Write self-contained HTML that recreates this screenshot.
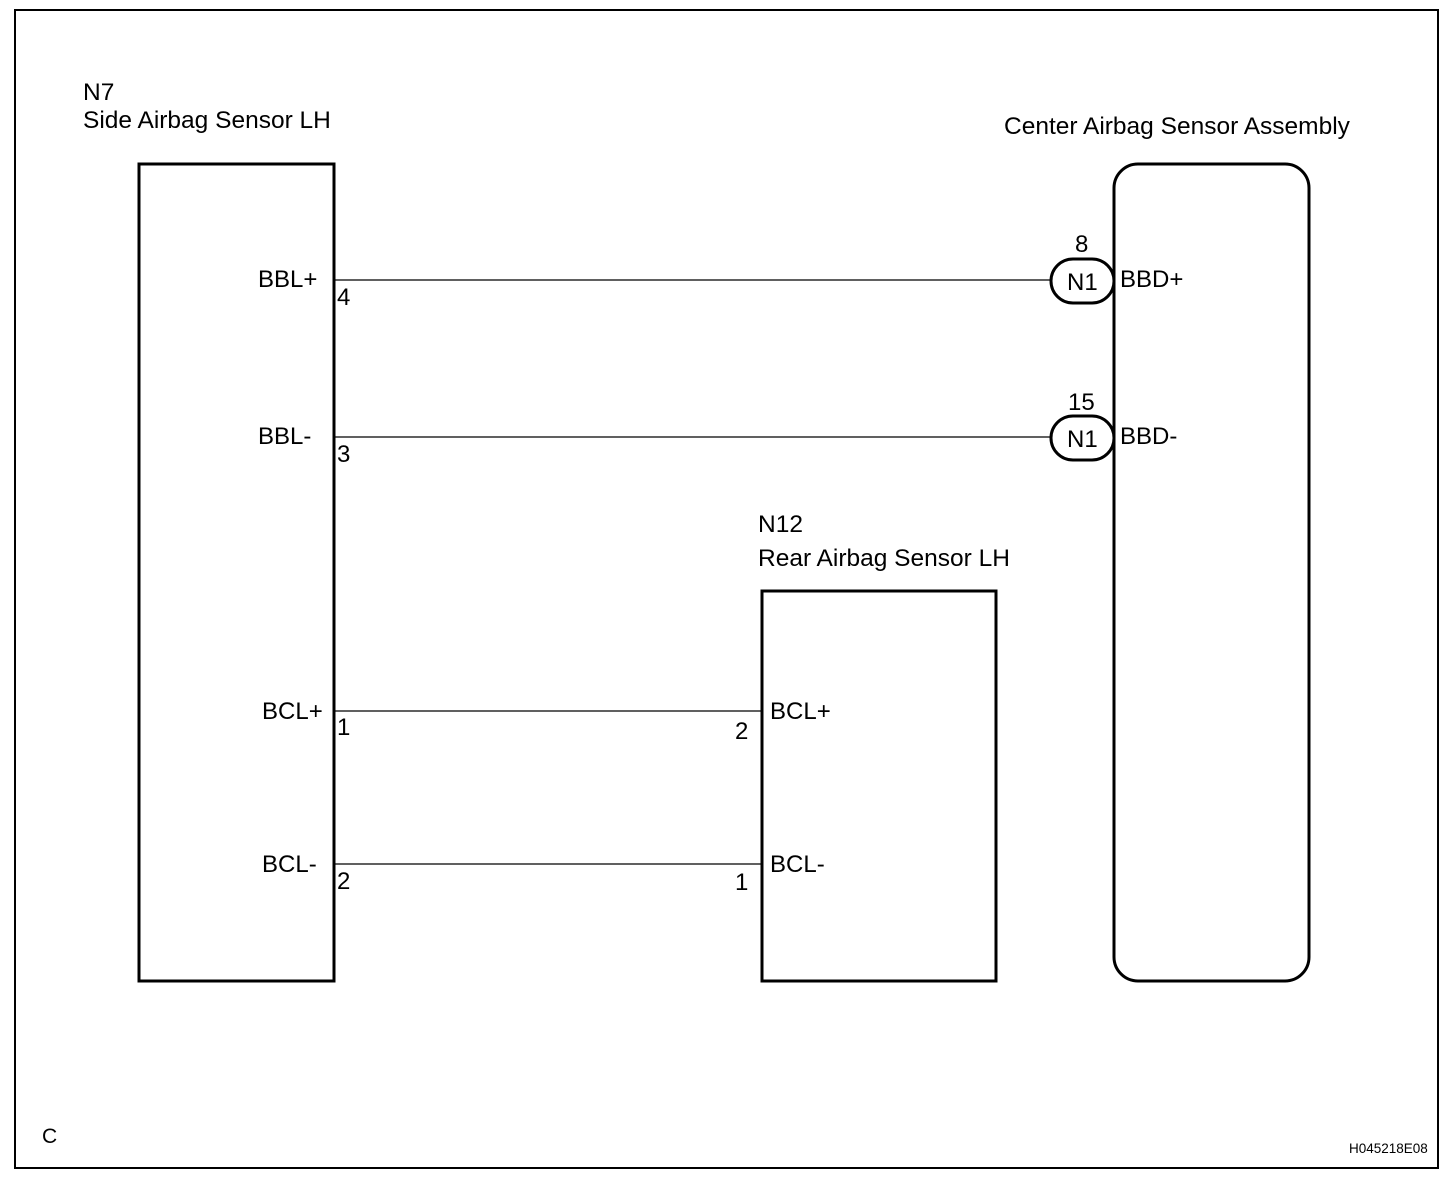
<!DOCTYPE html>
<html><head><style>
html,body{margin:0;padding:0;background:#fff;}
svg text{font-family:"Liberation Sans",Arial,sans-serif;fill:#000;}
</style></head><body>
<svg width="1456" height="1182" viewBox="0 0 1456 1182" xmlns="http://www.w3.org/2000/svg">
<rect x="15" y="10" width="1423" height="1158" fill="none" stroke="#000" stroke-width="2"/>
<g font-size="24.5">
<text x="83" y="100">N7</text>
<text x="83" y="128">Side Airbag Sensor LH</text>
<text x="1004" y="134">Center Airbag Sensor Assembly</text>
<text x="758" y="532">N12</text>
<text x="758" y="566">Rear Airbag Sensor LH</text>
</g>
<rect x="139" y="164" width="195" height="817" fill="none" stroke="#000" stroke-width="3"/>
<rect x="1114" y="164" width="195" height="817" rx="24" fill="none" stroke="#000" stroke-width="3"/>
<rect x="762" y="591" width="234" height="390" fill="none" stroke="#000" stroke-width="3"/>
<g stroke="#000" stroke-width="1.3">
<line x1="334" y1="280" x2="1050" y2="280"/>
<line x1="334" y1="437" x2="1050" y2="437"/>
<line x1="334" y1="711" x2="762" y2="711"/>
<line x1="334" y1="864" x2="762" y2="864"/>
</g>
<rect x="1051" y="259" width="63" height="44" rx="22" fill="#fff" stroke="#000" stroke-width="3"/>
<rect x="1051" y="416" width="63" height="44" rx="22" fill="#fff" stroke="#000" stroke-width="3"/>
<g font-size="24">
<text x="1067" y="290">N1</text>
<text x="1067" y="447">N1</text>
<text x="1075" y="252">8</text>
<text x="1068" y="410">15</text>
<text x="1120" y="287">BBD+</text>
<text x="1120" y="444">BBD-</text>
<text x="258" y="287">BBL+</text>
<text x="258" y="444">BBL-</text>
<text x="262" y="719">BCL+</text>
<text x="262" y="872">BCL-</text>
<text x="337" y="305">4</text>
<text x="337" y="462">3</text>
<text x="337" y="735">1</text>
<text x="337" y="889">2</text>
<text x="735" y="739">2</text>
<text x="735" y="890">1</text>
<text x="770" y="719">BCL+</text>
<text x="770" y="872">BCL-</text>
<text x="42" y="1143" font-size="21">C</text>
</g>
<text x="1349" y="1153" font-size="13.5">H045218E08</text>
</svg>
</body></html>
